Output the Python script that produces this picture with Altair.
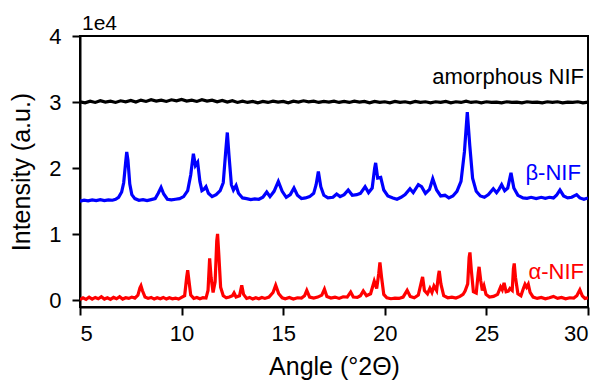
import altair as alt
import pandas as pd

# ---- data ----
AMORPHOUS = [
    (5.0, 30050), (5.25, 29900), (5.5, 30150), (5.75, 29950), (6.0, 30200), (6.25, 30000),
    (6.5, 30150), (6.75, 29950), (7.0, 30200), (7.25, 30050), (7.5, 30250), (7.75, 30000),
    (8.0, 30300), (8.25, 30100), (8.5, 30350), (8.75, 30150), (9.0, 30300), (9.25, 30100),
    (9.5, 30350), (9.75, 30200), (10.0, 30400), (10.25, 30150), (10.5, 30300), (10.75, 30100),
    (11.0, 30350), (11.25, 30150), (11.5, 30300), (11.75, 30050), (12.0, 30250), (12.25, 30000),
    (12.5, 30200), (12.75, 29950), (13.0, 30150), (13.25, 29950), (13.5, 30100), (13.75, 29900),
    (14.0, 30100), (14.25, 29950), (14.5, 30150), (14.75, 30000), (15.0, 30100), (15.25, 29900),
    (15.5, 30150), (15.75, 30000), (16.0, 30200), (16.25, 30050), (16.5, 30150), (16.75, 29950),
    (17.0, 30100), (17.25, 30000), (17.5, 30150), (17.75, 29950), (18.0, 30100), (18.25, 29950),
    (18.5, 30150), (18.75, 30000), (19.0, 30100), (19.25, 29900), (19.5, 30100), (19.75, 29950),
    (20.0, 30050), (20.25, 29900), (20.5, 30100), (20.75, 29950), (21.0, 30050), (21.25, 29900),
    (21.5, 30100), (21.75, 29950), (22.0, 30050), (22.25, 29900), (22.5, 30050), (22.75, 29950),
    (23.0, 30100), (23.25, 29900), (23.5, 30050), (23.75, 29950), (24.0, 30150), (24.25, 29950),
    (24.5, 30050), (24.75, 29900), (25.0, 30050), (25.25, 29950), (25.5, 30000), (25.75, 29900),
    (26.0, 30050), (26.25, 29950), (26.5, 30000), (26.75, 29900), (27.0, 30050), (27.25, 29950),
    (27.5, 30000), (27.75, 29900), (28.0, 30050), (28.25, 29950), (28.5, 30050), (28.75, 29900),
    (29.0, 30000), (29.25, 29950), (29.5, 30050), (29.75, 29900), (30.0, 30000),
]

BETA = [
    (5.0, 15000), (5.2, 15150), (5.4, 15050), (5.6, 15200), (5.8, 15100), (6.0, 15250),
    (6.2, 15100), (6.4, 15200), (6.6, 15150), (6.75, 15300), (6.9, 15600), (7.05, 16400),
    (7.15, 17800), (7.25, 21000), (7.3, 22450), (7.36, 21200), (7.45, 17600), (7.55, 16000),
    (7.7, 15400), (7.9, 15150), (8.1, 15250), (8.3, 15100), (8.5, 15250), (8.7, 15400),
    (8.85, 16200), (8.99, 17100), (9.12, 16100), (9.3, 15300), (9.5, 15200), (9.7, 15300),
    (9.9, 15400), (10.1, 15700), (10.3, 16600), (10.45, 19000), (10.58, 22200), (10.68, 20400),
    (10.79, 20900), (10.9, 18000), (11.0, 16600), (11.1, 16800), (11.2, 17200), (11.32, 16200),
    (11.5, 15700), (11.7, 16000), (11.9, 16600), (12.05, 17800), (12.17, 22500), (12.25, 25400),
    (12.33, 22000), (12.45, 17500), (12.55, 16700), (12.68, 17400), (12.8, 16200), (13.0, 15500),
    (13.2, 15400), (13.4, 15250), (13.6, 15350), (13.8, 15300), (14.0, 15600), (14.19, 16400),
    (14.35, 15700), (14.55, 16500), (14.76, 18000), (14.95, 16500), (15.15, 15600), (15.35, 16000),
    (15.53, 17000), (15.7, 15900), (15.9, 15400), (16.1, 15500), (16.3, 15700), (16.5, 16200),
    (16.62, 17500), (16.73, 19500), (16.85, 17200), (17.0, 15900), (17.2, 15500), (17.45, 15600),
    (17.63, 16100), (17.8, 15700), (18.0, 16000), (18.2, 16700), (18.4, 15900), (18.62, 16000),
    (18.8, 16200), (19.03, 17200), (19.2, 16300), (19.38, 17000), (19.5, 20000), (19.55, 20800),
    (19.65, 18500), (19.8, 18600), (19.95, 16700), (20.15, 15800), (20.4, 15500), (20.6, 15300),
    (20.8, 15600), (21.0, 16000), (21.24, 16900), (21.4, 16300), (21.65, 17500), (21.81, 17200),
    (22.0, 16200), (22.2, 16800), (22.36, 18400), (22.55, 16700), (22.75, 15800), (22.96, 15900),
    (23.15, 15500), (23.35, 15800), (23.55, 16500), (23.75, 18000), (23.92, 22500), (24.06, 28500),
    (24.18, 23500), (24.32, 18500), (24.5, 16500), (24.7, 15800), (24.9, 15600), (25.1, 16000),
    (25.34, 16900), (25.5, 16300), (25.62, 16800), (25.75, 17500), (25.9, 16600), (26.05, 17000),
    (26.21, 19300), (26.35, 17000), (26.55, 15900), (26.8, 15500), (27.0, 15450), (27.2, 15600),
    (27.45, 15400), (27.7, 15600), (27.9, 15450), (28.1, 15600), (28.3, 15500), (28.45, 15900),
    (28.62, 16700), (28.8, 15800), (29.0, 15500), (29.2, 15600), (29.44, 16000), (29.6, 15500),
    (29.8, 15300), (30.0, 15500),
]

ALPHA = [
    (5.0, 100), (5.15, 400), (5.3, 150), (5.45, 500), (5.6, 200), (5.75, 450), (5.9, 250),
    (6.05, 550), (6.2, 200), (6.35, 400), (6.5, 150), (6.65, 450), (6.8, 250), (6.95, 550),
    (7.1, 200), (7.25, 400), (7.4, 300), (7.55, 500), (7.7, 350), (7.85, 800), (7.95, 1900),
    (8.0, 2200), (8.07, 1500), (8.2, 500), (8.35, 300), (8.5, 450), (8.65, 200), (8.8, 400),
    (8.95, 250), (9.1, 450), (9.25, 200), (9.4, 400), (9.55, 250), (9.7, 350), (9.85, 200),
    (10.0, 450), (10.15, 700), (10.25, 3500), (10.3, 4570), (10.36, 3000), (10.45, 800),
    (10.6, 300), (10.75, 450), (10.9, 250), (11.05, 400), (11.2, 350), (11.3, 1500),
    (11.38, 6350), (11.45, 3500), (11.55, 1200), (11.65, 2800), (11.73, 9000), (11.77, 10060),
    (11.83, 7000), (11.92, 2000), (12.05, 700), (12.2, 400), (12.35, 500), (12.5, 700),
    (12.58, 1120), (12.68, 500), (12.85, 700), (12.96, 2290), (13.05, 900), (13.2, 300),
    (13.35, 450), (13.5, 200), (13.65, 400), (13.8, 250), (13.95, 450), (14.1, 300), (14.3, 500),
    (14.5, 1200), (14.63, 2290), (14.78, 1000), (14.95, 400), (15.1, 250), (15.3, 450),
    (15.5, 200), (15.7, 400), (15.9, 350), (16.05, 700), (16.16, 1520), (16.3, 500), (16.5, 350),
    (16.7, 500), (16.9, 800), (17.03, 1700), (17.15, 600), (17.35, 350), (17.55, 500),
    (17.75, 300), (17.95, 550), (18.15, 500), (18.32, 1270), (18.45, 500), (18.65, 450),
    (18.8, 700), (18.94, 1420), (19.1, 700), (19.3, 1000), (19.48, 2900), (19.6, 1800),
    (19.7, 4000), (19.76, 5740), (19.84, 3500), (19.95, 900), (20.1, 400), (20.3, 250),
    (20.5, 350), (20.7, 300), (20.9, 500), (21.1, 1520), (21.25, 600), (21.45, 400), (21.65, 800),
    (21.8, 2800), (21.86, 3560), (21.95, 1500), (22.1, 1000), (22.22, 1830), (22.32, 1200),
    (22.42, 2190), (22.55, 1500), (22.64, 3800), (22.68, 4470), (22.76, 2500), (22.9, 700),
    (23.1, 400), (23.3, 500), (23.5, 350), (23.7, 600), (23.85, 900), (23.95, 1420),
    (24.08, 2500), (24.15, 6500), (24.19, 7260), (24.26, 4500), (24.36, 1300), (24.5, 1100),
    (24.6, 4200), (24.64, 5080), (24.72, 3000), (24.8, 1500), (24.88, 2190), (24.98, 900),
    (25.15, 500), (25.35, 600), (25.55, 900), (25.7, 2030), (25.78, 1600), (25.87, 2640),
    (25.97, 1300), (26.08, 1400), (26.16, 1800), (26.27, 1500), (26.33, 4800), (26.37, 5590),
    (26.43, 3500), (26.55, 1000), (26.7, 700), (26.82, 1800), (26.9, 2440), (26.98, 2000),
    (27.06, 2440), (27.15, 1200), (27.3, 500), (27.5, 300), (27.7, 450), (27.9, 250),
    (28.1, 400), (28.3, 600), (28.5, 300), (28.7, 450), (28.9, 250), (29.1, 400), (29.3, 350),
    (29.45, 700), (29.6, 1600), (29.72, 700), (29.85, 300), (30.0, 400),
]

SERIES = ["amorphous NIF", "β-NIF", "α-NIF"]
COLORS = ["#000000", "#0000ff", "#ff0000"]
LABEL_X = [29.8, 29.65, 29.8]
LABEL_Y = [33870, 19270, 4290]
X_TICKS = [5, 10, 15, 20, 25, 30]
Y_TICKS = [0, 10000, 20000, 30000, 40000]

FONT = "Liberation Sans"

rows = []
for name, pts in zip(SERIES, [AMORPHOUS, BETA, ALPHA]):
    for i, (a, v) in enumerate(pts):
        rows.append({"angle": a, "intensity": v, "series": name, "order": i})
df = pd.DataFrame(rows)

labels = pd.DataFrame({"angle": LABEL_X, "intensity": LABEL_Y, "series": SERIES})
offset = pd.DataFrame({"angle": [5], "intensity": [40000], "text": ["1e4"]})

x_scale = alt.Scale(domain=[5, 30], nice=False, zero=False)
y_scale = alt.Scale(domain=[-1000, 40000], nice=False, zero=False)
color_scale = alt.Scale(domain=SERIES, range=COLORS)

lines = alt.Chart(df).mark_line(strokeWidth=3.2, clip=True).encode(
    x=alt.X("angle:Q", scale=x_scale,
            axis=alt.Axis(values=X_TICKS, title="Angle (°2Θ)", format="d")),
    y=alt.Y("intensity:Q", scale=y_scale,
            axis=alt.Axis(values=Y_TICKS, title="Intensity (a.u.)",
                          labelExpr="datum.value / 10000")),
    color=alt.Color("series:N", scale=color_scale, legend=None),
    detail="series:N",
    order="order:Q",
)

text = alt.Chart(labels).mark_text(align="right", baseline="middle",
                                   font=FONT, fontSize=22).encode(
    x=alt.X("angle:Q", scale=x_scale),
    y=alt.Y("intensity:Q", scale=y_scale),
    text="series:N",
    color=alt.Color("series:N", scale=color_scale, legend=None),
)

off = alt.Chart(offset).mark_text(align="left", baseline="middle", dx=2, dy=-12,
                                  font=FONT, fontSize=21, color="black").encode(
    x=alt.X("angle:Q", scale=x_scale),
    y=alt.Y("intensity:Q", scale=y_scale),
    text="text:N",
)

chart = alt.layer(lines, text, off).properties(
    width=508, height=271,
    autosize=alt.AutoSizeParams(type="none"),
    padding={"left": 72, "top": 28, "right": 7, "bottom": 75},
).configure_view(
    stroke="black", strokeWidth=2
).configure_axis(
    grid=False, domainColor="black", domainWidth=2, tickColor="black", tickWidth=2,
    tickSize=8, labelFont=FONT, labelFontSize=22, labelColor="black",
    titleFont=FONT, titleFontSize=25, titleColor="black", titleFontWeight="normal",
).configure_axisX(
    labelPadding=8, titlePadding=10
).configure_axisY(
    labelPadding=11, titlePadding=14
)

chart.save("out.html", embed_options={"renderer": "svg", "actions": False})
